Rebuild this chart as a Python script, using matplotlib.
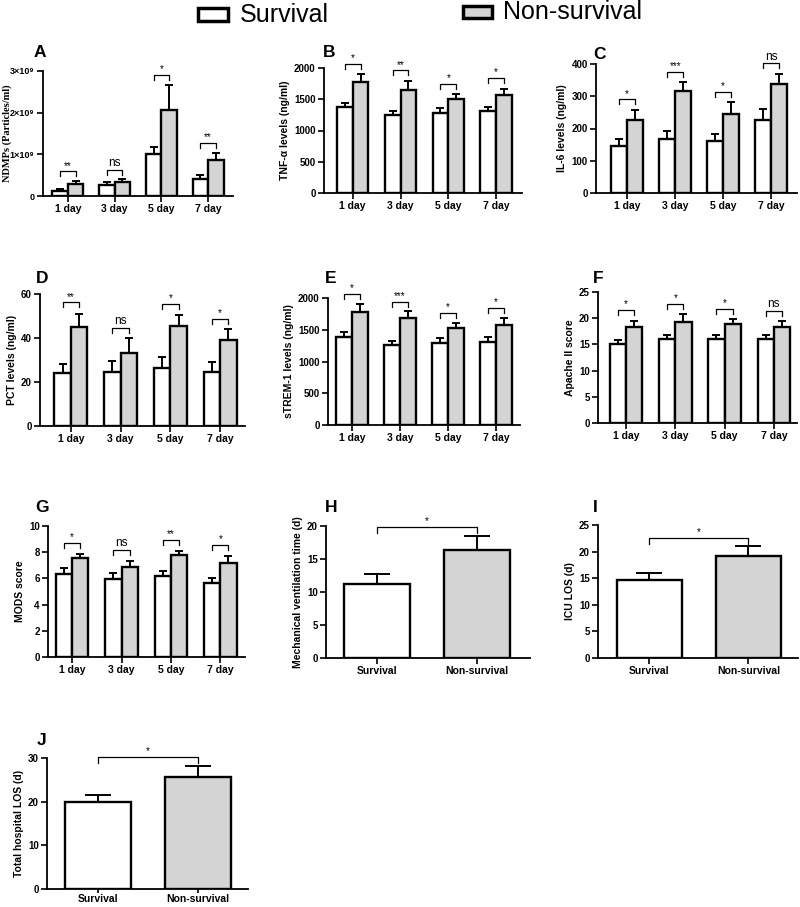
import numpy as np
import matplotlib.pyplot as plt
from matplotlib.patches import Rectangle

plt.rcParams['font.family'] = ['Liberation Sans', 'DejaVu Sans']

# ---- data ----
days = ['1 day', '3 day', '5 day', '7 day']
groups = ['Survival', 'Non-survival']

# A: NDMPs (x 1e9 particles/ml)
ndmp_surv = [0.13, 0.26, 1.02, 0.41]
ndmp_surv_err = [0.05, 0.07, 0.15, 0.09]
ndmp_non = [0.30, 0.33, 2.06, 0.86]
ndmp_non_err = [0.07, 0.08, 0.60, 0.17]
ndmp_brk = [0.59, 0.63, 2.91, 1.27]
ndmp_sig = ['**', 'ns', '*', '**']

# B: TNF-a
tnf_surv = [1379, 1247, 1284, 1310]
tnf_surv_err = [69, 69, 69, 64]
tnf_non = [1777, 1655, 1507, 1570]
tnf_non_err = [122, 133, 79, 101]
tnf_brk = [2069, 1963, 1751, 1836]
tnf_sig = ['*', '**', '*', '*']

# C: IL-6
il6_surv = [146, 167, 162, 226]
il6_surv_err = [22, 25, 22, 33]
il6_non = [226, 316, 244, 337]
il6_non_err = [31, 29, 37, 32]
il6_brk = [290, 376, 314, 402]
il6_sig = ['*', '***', '*', 'ns']

# D: PCT
pct_surv = [23.9, 24.7, 26.4, 24.4]
pct_surv_err = [4.3, 4.7, 4.8, 4.5]
pct_non = [44.8, 33.2, 45.3, 39.2]
pct_non_err = [6.2, 6.6, 5.2, 4.7]
pct_brk = [56.2, 44.7, 55.5, 48.8]
pct_sig = ['**', 'ns', '*', '*']

# E: sTREM-1
strem_surv = [1384, 1253, 1289, 1311]
strem_surv_err = [74, 68, 74, 73]
strem_non = [1774, 1679, 1521, 1579]
strem_non_err = [126, 110, 79, 100]
strem_brk = [2063, 1942, 1763, 1842]
strem_sig = ['*', '***', '*', '*']

# F: Apache II
apache_surv = [15.1, 16.0, 16.1, 16.0]
apache_surv_err = [0.8, 0.8, 0.7, 0.8]
apache_non = [18.3, 19.2, 18.8, 18.35]
apache_non_err = [1.2, 1.6, 1.1, 1.05]
apache_brk = [21.6, 22.7, 21.8, 21.4]
apache_sig = ['*', '*', '*', 'ns']

# G: MODS
mods_surv = [6.37, 5.96, 6.19, 5.68]
mods_surv_err = [0.41, 0.43, 0.41, 0.32]
mods_non = [7.54, 6.90, 7.80, 7.21]
mods_non_err = [0.36, 0.46, 0.30, 0.51]
mods_brk = [8.71, 8.20, 8.94, 8.56]
mods_sig = ['*', 'ns', '**', '*']

# H, I, J: survival vs non-survival
vent = [11.2, 16.4]
vent_err = [1.5, 2.1]
icu = [14.6, 19.25]
icu_err = [1.4, 1.85]
hosp = [20.0, 25.7]
hosp_err = [1.5, 2.5]

W, H = 800, 907
fig = plt.figure(figsize=(W / 100, H / 100), dpi=100)

WHITE = 'white'
GREY = '#d4d4d4'


def px_axes(x0, x1, ytop, ybot):
    ax = fig.add_axes([x0 / W, 1 - ybot / H, (x1 - x0) / W, (ybot - ytop) / H])
    ax.spines['top'].set_visible(False)
    ax.spines['right'].set_visible(False)
    for s in ('left', 'bottom'):
        ax.spines[s].set_linewidth(1.3)
    ax.tick_params(direction='out', length=4, width=1.2, labelsize=7, pad=2)
    ax.tick_params(axis='x', pad=1.5)
    return ax, ybot - ytop


def bracket(ax, x0, x1, y, mark, leg, fs=7):
    ax.plot([x0, x0, x1, x1], [y - leg, y, y, y - leg], color='black', lw=0.9,
            clip_on=False)
    ax.annotate(mark, (0.5 * (x0 + x1), y), xytext=(0, 0.5),
                textcoords='offset points', ha='center', va='bottom',
                fontsize=fs if mark != 'ns' else fs + 1.5,
                annotation_clip=False)


def grouped(box, surv, surv_err, non, non_err, brk, sig, ticks, ylabel, xlim,
            serif=False):
    ax, hpx = px_axes(*box)
    x = np.arange(len(days))
    w = 0.33
    ax.bar(x - w / 2, surv, w, color=WHITE, edgecolor='black', lw=1.7, zorder=2)
    ax.bar(x + w / 2, non, w, color=GREY, edgecolor='black', lw=1.7, zorder=2)
    ax.errorbar(x - w / 2, surv, yerr=[np.zeros(4), surv_err], fmt='none',
                ecolor='black', elinewidth=1.4, capsize=2.8, capthick=1.4, zorder=1)
    ax.errorbar(x + w / 2, non, yerr=[np.zeros(4), non_err], fmt='none',
                ecolor='black', elinewidth=1.4, capsize=2.8, capthick=1.4, zorder=1)
    ax.set_ylim(0, ticks[-1])
    ax.set_yticks(ticks)
    ax.set_xlim(*xlim)
    ax.set_xticks(x)
    ax.set_xticklabels(days, fontsize=7.5, fontweight='bold')
    for lab in ax.get_yticklabels():
        lab.set_fontweight('bold')
    leg = ticks[-1] * 5 / hpx
    for i in range(len(days)):
        bracket(ax, x[i] - w / 2, x[i] + w / 2, brk[i], sig[i], leg)
    if serif:
        ax.set_ylabel(ylabel, fontsize=7.5, fontweight='bold',
                      family='Liberation Serif')
    else:
        ax.set_ylabel(ylabel, fontsize=7.5, fontweight='bold', labelpad=3)
    return ax


def pair(box, vals, errs, ticks, ylabel, brk, xlim):
    ax, hpx = px_axes(*box)
    x = np.arange(2)
    w = 0.66
    ax.bar(x, vals, w, color=[WHITE, GREY], edgecolor='black', lw=1.7, zorder=2)
    ax.errorbar(x, vals, yerr=[np.zeros(2), errs], fmt='none', ecolor='black',
                elinewidth=1.4, capsize=9.5, capthick=1.4, zorder=1)
    ax.set_ylim(0, ticks[-1])
    ax.set_yticks(ticks)
    ax.set_xlim(*xlim)
    ax.set_xticks(x)
    ax.set_xticklabels(groups, fontsize=7.5, fontweight='bold')
    for lab in ax.get_yticklabels():
        lab.set_fontweight('bold')
    bracket(ax, 0, 1, brk, '*', ticks[-1] * 6 / hpx)
    ax.set_ylabel(ylabel, fontsize=7.5, fontweight='bold', labelpad=3)
    return ax


axA = grouped((43, 233, 71, 196), ndmp_surv, ndmp_surv_err, ndmp_non, ndmp_non_err,
              ndmp_brk, ndmp_sig, [0, 1, 2, 3], 'NDMPs (Particles/ml)',
              (-0.53, 3.53), serif=True)
axA.set_yticklabels(['0', '1×10⁹', '2×10⁹', '3×10⁹'], fontsize=6.5, fontweight='bold')
axA.yaxis.set_label_coords(-0.165, 0.5)

grouped((324, 522, 68, 193), tnf_surv, tnf_surv_err, tnf_non, tnf_non_err,
        tnf_brk, tnf_sig, [0, 500, 1000, 1500, 2000], 'TNF-α levels (ng/ml)',
        (-0.6, 3.54))
grouped((596, 797, 64, 193), il6_surv, il6_surv_err, il6_non, il6_non_err,
        il6_brk, il6_sig, [0, 100, 200, 300, 400], 'IL-6 levels (ng/ml)',
        (-0.65, 3.54))
grouped((40, 245, 294, 426), pct_surv, pct_surv_err, pct_non, pct_non_err,
        pct_brk, pct_sig, [0, 20, 40, 60], 'PCT levels (ng/ml)',
        (-0.62, 3.5))
grouped((328, 520, 298, 425), strem_surv, strem_surv_err, strem_non, strem_non_err,
        strem_brk, strem_sig, [0, 500, 1000, 1500, 2000], 'sTREM-1 levels (ng/ml)',
        (-0.5, 3.5))
grouped((598, 797, 292, 423), apache_surv, apache_surv_err, apache_non, apache_non_err,
        apache_brk, apache_sig, [0, 5, 10, 15, 20, 25], 'Apache II score',
        (-0.57, 3.47))
grouped((48, 245, 526, 657), mods_surv, mods_surv_err, mods_non, mods_non_err,
        mods_brk, mods_sig, [0, 2, 4, 6, 8, 10], 'MODS score',
        (-0.49, 3.5))

pair((326, 530, 526, 658), vent, vent_err, [0, 5, 10, 15, 20],
     'Mechanical ventilation time (d)', 19.9, (-0.51, 1.53))
pair((598, 798, 525, 658), icu, icu_err, [0, 5, 10, 15, 20, 25],
     'ICU LOS (d)', 22.6, (-0.52, 1.5))
axJ = pair((47, 248, 758, 889), hosp, hosp_err, [0, 10, 20, 30],
           'Total hospital LOS (d)', 30.2, (-0.51, 1.5))
axJ.tick_params(axis='x', length=3, pad=0.5)

# panel letters
letters = {'A': (34, 57), 'B': (323, 57), 'C': (593, 59),
           'D': (36, 283), 'E': (325, 283), 'F': (593, 283),
           'G': (35, 512), 'H': (325, 512), 'I': (593, 512), 'J': (37, 745)}
for k, (lx, ly) in letters.items():
    fig.text(lx / W, 1 - ly / H, k, fontsize=12.5, fontweight='bold',
             ha='left', va='baseline')

# legend at top
fig.patches.append(Rectangle((198 / W, 1 - 21 / H), 30 / W, 13 / H,
                             transform=fig.transFigure, facecolor=WHITE,
                             edgecolor='black', lw=2.5))
fig.text(240 / W, 1 - 22 / H, 'Survival', fontsize=18, ha='left', va='baseline')
fig.patches.append(Rectangle((463 / W, 1 - 18 / H), 29 / W, 12 / H,
                             transform=fig.transFigure, facecolor=GREY,
                             edgecolor='black', lw=2.5))
fig.text(503 / W, 1 - 19 / H, 'Non-survival', fontsize=18, ha='left', va='baseline')

fig.savefig('out.png', dpi=100)
